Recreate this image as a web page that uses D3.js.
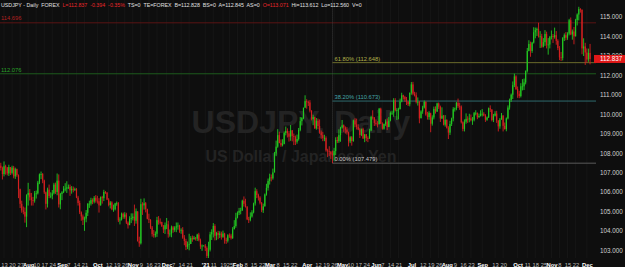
<!DOCTYPE html>
<html><head><meta charset="utf-8">
<script src="https://cdn.jsdelivr.net/npm/d3@7"></script>
<style>html,body{margin:0;padding:0;background:#0e0e0e;overflow:hidden}</style>
</head><body><svg id="c" width="625" height="267"></svg>
<script>
// ---------- DATA ----------
const startDate = "2020-07-09";     // first daily bar (weekdays follow)
const firstOpen = 107.35;
const closes = [
// Jul 2020
107.23,106.92,107.32,107.26,106.95,107.28,106.98,107.25,106.80,107.17,106.86,106.14,105.39,105.05,104.98,104.73,105.83,
// Aug
105.95,105.72,105.58,105.55,105.92,105.93,106.48,106.90,106.92,106.59,105.98,105.39,106.12,105.79,105.80,105.93,106.38,106.00,106.58,105.36,105.90,
// Sep
105.98,106.16,106.17,106.23,106.26,106.08,106.16,106.15,106.15,105.71,105.43,104.95,104.74,104.57,104.63,104.93,105.38,105.40,105.58,105.50,105.70,105.55,
// Oct
105.52,105.31,105.73,105.68,106.00,105.96,105.61,105.33,105.46,105.11,105.11,105.41,105.42,104.54,104.58,104.88,104.72,104.84,104.42,104.29,104.62,104.65,
// Nov
104.73,104.52,105.01,103.47,103.36,105.37,105.31,105.42,105.12,104.62,104.57,104.17,103.83,103.77,103.85,104.55,104.46,104.45,104.24,104.07,104.29,
// Dec
104.33,103.83,103.86,104.18,104.05,104.17,104.23,104.27,104.02,104.05,103.65,103.48,103.18,103.30,103.33,103.63,103.56,103.65,103.60,103.81,103.52,103.20,103.24,
// Jan 2021
103.24,103.12,102.71,103.03,103.82,103.94,104.25,103.75,103.89,103.79,103.86,103.69,103.86,103.54,103.49,103.77,103.76,103.62,104.08,104.25,104.68,
// Feb
104.93,105.03,105.05,105.55,105.39,105.22,104.59,104.57,104.74,104.95,105.41,106.04,105.84,105.71,105.45,105.06,105.26,105.87,106.21,106.57,
// Mar
106.75,106.70,107.00,107.98,108.33,108.92,108.52,108.40,108.47,109.03,109.14,109.01,108.84,109.17,108.88,108.83,108.58,108.72,109.19,109.64,109.80,110.34,110.67,
// Apr
110.62,110.60,110.18,109.74,109.85,109.27,109.66,109.39,109.06,108.92,108.77,108.78,108.14,108.09,108.07,107.94,107.88,108.10,108.67,108.61,108.92,109.31,
// May
109.43,109.31,109.20,109.07,108.60,108.81,108.62,109.68,109.47,109.34,109.21,108.93,109.23,108.75,108.96,108.77,108.75,109.16,109.86,109.83,109.55,
// Jun
109.50,109.49,110.28,109.51,109.25,109.49,109.62,109.34,109.67,110.06,110.07,110.71,110.20,110.20,110.26,110.65,110.97,110.88,110.76,110.63,110.51,111.10,
// Jul
111.53,111.05,110.97,110.63,110.63,109.78,110.14,110.34,110.63,109.98,109.85,110.07,109.51,109.83,110.27,110.14,110.55,110.38,109.78,109.92,109.46,109.71,
// Aug
109.30,109.05,109.49,109.78,110.25,110.29,110.58,110.41,110.39,109.58,109.24,109.61,109.76,109.75,109.78,109.69,109.71,110.05,110.07,109.84,109.91,110.02,
// Sep
110.02,109.93,109.71,109.83,110.30,110.24,109.70,109.92,110.03,109.67,109.37,109.72,109.93,109.40,109.23,109.78,110.34,110.73,111.00,111.49,111.94,111.29,
// Oct
111.05,110.93,111.43,111.43,111.63,112.22,113.25,113.61,113.25,113.68,114.21,114.32,114.37,114.00,114.00,113.47,113.70,114.12,113.56,113.58,113.96,
// Nov
114.01,113.97,114.06,113.77,113.40,112.92,112.89,113.91,114.06,113.93,114.14,114.83,114.10,114.25,114.00,114.84,115.12,115.40,115.37,113.38,113.48,113.17,
// Dec
112.81,113.15,112.837];
const highs = [
107.50,107.30,107.57,107.40,107.28,107.40,107.25,107.35,107.34,107.25,107.20,106.90,106.17,105.55,105.25,105.20,105.88,
106.47,106.15,105.95,105.75,106.05,106.07,106.57,106.95,107.05,106.97,106.63,106.02,106.22,106.38,105.98,106.10,106.47,106.48,106.95,106.90,105.95,
106.04,106.30,106.45,106.55,106.38,106.38,106.30,106.28,106.22,106.20,105.80,105.55,105.00,104.84,104.73,105.07,105.43,105.55,105.70,105.67,105.79,105.84,
105.80,105.68,105.77,105.80,106.11,106.05,106.00,105.68,105.53,105.52,105.35,105.44,105.51,105.48,104.70,104.94,104.94,104.96,104.93,104.49,104.75,104.90,
104.90,105.35,105.15,104.98,103.70,105.65,105.47,105.67,105.48,105.14,104.88,104.60,104.25,104.04,103.97,104.72,104.76,104.64,104.47,104.30,104.43,
104.66,104.52,104.07,104.27,104.25,104.24,104.43,104.43,104.31,104.13,104.19,103.78,103.59,103.45,103.85,103.73,103.76,103.74,103.68,103.85,103.90,103.60,103.30,
103.26,103.32,103.20,103.44,103.95,104.08,104.40,104.34,103.95,104.00,103.98,103.96,104.01,103.90,103.65,103.83,103.87,103.85,104.19,104.55,104.93,
105.00,105.18,105.19,105.60,105.77,105.65,105.28,104.72,104.95,105.06,105.45,106.22,106.14,105.91,105.78,105.48,105.40,105.92,106.42,106.69,
106.94,106.90,107.20,108.06,108.64,109.23,109.10,108.70,108.71,109.11,109.36,109.27,109.13,109.44,109.18,109.00,108.90,108.95,109.29,109.85,109.85,110.29,110.97,
110.77,110.70,110.72,110.20,109.97,109.87,109.80,109.77,109.73,109.16,109.09,108.94,108.86,108.22,108.35,108.10,108.13,108.27,108.81,108.84,109.22,109.35,
109.70,109.47,109.37,109.33,109.10,108.87,108.87,109.72,109.79,109.77,109.48,109.28,109.26,109.30,108.99,108.98,108.86,109.25,109.92,110.20,109.85,
109.73,109.64,110.32,110.33,109.58,109.52,109.73,109.78,109.85,110.14,110.18,110.82,110.82,110.31,110.33,110.80,111.10,111.00,110.94,110.88,110.67,111.11,
111.65,111.66,111.15,111.12,110.86,110.68,110.20,110.43,110.70,110.66,110.12,110.15,110.00,109.94,110.39,110.40,110.59,110.60,110.44,110.35,109.96,109.95,
109.73,109.38,109.66,109.82,110.36,110.34,110.63,110.80,110.59,110.45,109.63,109.73,110.04,109.89,110.02,109.98,109.85,110.11,110.20,110.08,110.03,110.20,
110.26,110.10,110.00,109.88,110.34,110.45,110.25,110.01,110.15,110.17,109.69,109.80,110.06,109.94,109.57,109.83,110.45,110.80,111.06,111.68,112.08,112.00,
111.42,111.20,111.59,111.80,111.83,112.25,113.40,113.80,113.73,113.72,114.47,114.45,114.45,114.70,114.27,114.13,113.91,114.32,114.24,113.91,114.02,
114.30,114.12,114.45,114.27,113.85,113.50,113.20,113.96,114.15,114.22,114.21,114.90,114.97,114.35,114.48,114.90,115.18,115.52,115.45,115.38,113.90,113.67,
113.38,113.37,113.612];
const lows = [
107.10,106.64,106.80,106.89,106.85,106.82,106.87,106.90,106.70,106.67,106.78,105.68,105.17,104.93,104.85,104.42,104.19,
105.30,105.56,105.30,105.30,105.45,105.66,105.87,106.40,106.66,106.45,105.90,105.10,105.20,105.68,105.68,105.62,105.87,105.90,105.83,105.20,105.11,
105.58,105.94,106.03,105.95,106.15,105.80,105.91,105.98,106.05,105.68,105.30,104.86,104.52,104.30,104.00,104.44,104.76,105.18,105.30,105.37,105.41,105.45,
105.40,104.94,105.30,105.40,105.53,105.90,105.58,105.26,105.15,105.06,104.98,105.05,105.29,104.45,104.33,104.53,104.62,104.62,104.35,104.12,104.33,104.40,
104.54,104.25,104.37,103.45,103.18,103.30,104.82,105.09,104.95,104.59,104.40,104.10,103.70,103.65,103.66,103.69,104.32,104.33,104.20,103.89,103.84,
104.09,103.65,103.70,103.67,103.90,103.95,103.93,104.06,103.90,103.85,103.59,103.26,103.01,103.06,103.00,103.32,103.44,103.56,103.50,103.48,103.46,103.07,102.97,
103.22,102.96,102.60,102.59,102.94,103.53,103.66,103.51,103.52,103.57,103.63,103.55,103.64,103.34,103.33,103.40,103.64,103.55,103.59,104.08,104.16,
104.64,104.81,104.85,105.03,105.25,105.20,104.55,104.40,104.49,104.68,104.90,105.30,105.68,105.56,105.36,104.96,104.92,105.25,105.81,106.07,
106.38,106.54,106.63,107.01,107.84,108.27,108.50,108.32,108.34,108.45,108.91,108.80,108.59,108.63,108.60,108.41,108.41,108.48,108.64,109.12,109.42,109.74,110.31,
110.28,110.42,110.09,109.68,109.43,109.24,109.20,109.23,108.99,108.73,108.61,108.61,108.07,107.79,107.85,107.70,107.48,107.60,107.90,108.51,108.52,108.58,
109.25,109.09,109.00,108.95,108.34,108.51,108.38,108.58,109.33,109.21,109.18,108.77,108.87,108.73,108.56,108.61,108.56,108.73,109.12,109.72,109.39,
109.41,109.32,109.47,109.50,109.20,109.20,109.40,109.18,109.33,109.63,109.96,109.87,110.14,109.70,109.73,110.24,110.61,110.75,110.64,110.47,110.42,110.40,
111.00,110.97,110.91,110.55,110.44,109.53,109.80,110.02,110.29,109.92,109.72,109.71,109.07,109.41,109.73,110.03,110.11,110.27,109.60,109.75,109.42,109.36,
109.26,108.72,108.93,109.39,109.63,110.13,110.20,110.32,110.22,109.52,109.12,109.11,109.51,109.55,109.58,109.63,109.45,109.63,109.94,109.74,109.82,109.88,
109.88,109.89,109.60,109.66,109.80,110.11,109.63,109.59,109.88,109.55,109.11,109.25,109.72,109.11,109.21,109.12,109.73,110.23,110.63,110.78,111.39,111.24,
110.84,110.82,110.86,111.22,111.24,111.53,112.14,113.23,112.95,113.15,113.63,113.90,114.02,113.94,113.40,113.41,113.43,113.51,113.38,113.06,113.38,
113.84,113.66,113.88,113.57,113.29,112.78,112.73,112.76,113.76,113.80,113.82,114.05,114.06,113.83,113.59,114.00,114.56,114.82,115.22,113.08,112.99,112.53,
112.65,112.69,112.560];

const yTickValues = [103,104,105,106,107,108,109,110,111,112,113,114,115];
const xTickDates = ["2020-07-13","2020-07-20","2020-07-27","2020-08-03","2020-08-10","2020-08-17","2020-08-24","2020-09-01","2020-09-07","2020-09-14","2020-09-21","2020-10-01","2020-10-12","2020-10-19","2020-10-26","2020-11-02","2020-11-09","2020-11-16","2020-11-23","2020-12-01","2020-12-07","2020-12-14","2020-12-21","2021-01-04","2021-01-11","2021-01-19","2021-01-25","2021-02-01","2021-02-08","2021-02-15","2021-02-22","2021-03-01","2021-03-08","2021-03-15","2021-03-22","2021-04-01","2021-04-12","2021-04-19","2021-04-26","2021-05-03","2021-05-10","2021-05-17","2021-05-24","2021-06-01","2021-06-07","2021-06-14","2021-06-21","2021-07-01","2021-07-12","2021-07-19","2021-07-26","2021-08-02","2021-08-09","2021-08-16","2021-08-23","2021-09-01","2021-09-13","2021-09-20","2021-10-01","2021-10-11","2021-10-18","2021-10-25","2021-11-01","2021-11-08","2021-11-15","2021-11-22","2021-12-01"];
const xTickLabels = ["13","20","27","Aug","10","17","24","Sep","7","14","21","Oct","12","19","26","Nov","9","16","23","Dec","7","14","21","'21","11","19","25","Feb","8","15","22","Mar","8","15","22","Apr","12","19","26","May","10","17","24","Jun","7","14","21","Jul","12","19","26","Aug","9","16","23","Sep","13","20","Oct","11","18","25","Nov","8","15","22","Dec"];
const monthLabels = ["Aug","Sep","Oct","Nov","Dec","'21","Feb","Mar","Apr","May","Jun","Jul"];

const lastPrice = 112.837;
const redLevel = 114.696;
const greenLevel = 112.076;
const fibStartDate = "2021-04-23";
const fibNames = ["61.80%","38.20%","0.00%"];
const fibValues = [112.648,110.673,107.479];
const fibTop = 115.84;
const headerParts = [
  ["USDJPY - Daily  FOREX  ","#e0e0e0"],
  ["L=112.837  -0.394  -0.35%","#e8262a"],
  ["  TS=0  TE=FOREX  B=112.828  BS=0  A=112.845  AS=0  ","#e0e0e0"],
  ["O=113.071","#e8262a"],
  ["  Hi=113.612  Lo=112.560  V=0","#e0e0e0"]];

// ---------- BUILD ----------
const fmtDate = d3.utcFormat("%Y-%m-%d");
const dates = [];
{ let d = new Date(startDate + "T00:00:00Z");
  while (dates.length < closes.length) {
    const wd = d.getUTCDay();
    if (wd !== 0 && wd !== 6) dates.push(fmtDate(d));
    d = new Date(d.getTime() + 86400000);
  } }
const bars = dates.map((dt, i) => ({
  date: dt, open: i ? closes[i-1] : firstOpen, high: highs[i], low: lows[i], close: closes[i]
}));

const W = 625, H = 267, plotR = 596, plotB = 258;
const FF = "Liberation Sans, Arial, sans-serif";
const svg = d3.select("#c");
svg.append("rect").attr("width", W).attr("height", H).attr("fill", "#0e0e0e");

const x = d3.scalePoint().domain(dates).range([0.8, 0.8 + (dates.length - 1) * 1.61]);
const y = d3.scaleLinear().domain([103, 115]).range([250.3, 16.9]);

svg.append("defs").append("clipPath").attr("id", "clip")
  .append("rect").attr("x", 0).attr("y", 0).attr("width", plotR).attr("height", plotB);

// grid
svg.append("g").selectAll("line").data(xTickDates).join("line")
  .attr("x1", d => x(d)).attr("x2", d => x(d))
  .attr("y1", 0).attr("y2", plotB).attr("stroke", "#161616").attr("stroke-width", 1);

// watermark
svg.append("text").attr("x", 301).attr("y", 133).attr("text-anchor", "middle")
  .attr("font-family", FF).attr("font-weight", "bold")
  .attr("font-size", 32).attr("fill", "#232323").text("USDJPY, Daily");
svg.append("text").attr("x", 301).attr("y", 162).attr("text-anchor", "middle")
  .attr("font-family", FF).attr("font-weight", "bold")
  .attr("font-size", 16).attr("fill", "#232323").text("US Dollar / Japanese Yen");

const g = svg.append("g").attr("clip-path", "url(#clip)");

// horizontal levels
g.append("line").attr("x1", 0).attr("x2", plotR).attr("y1", y(redLevel)).attr("y2", y(redLevel))
  .attr("stroke", "#5a1414").attr("stroke-width", 1);
g.append("line").attr("x1", 0).attr("x2", plotR).attr("y1", y(greenLevel)).attr("y2", y(greenLevel))
  .attr("stroke", "#1d5a1d").attr("stroke-width", 1);

// fib
const fx = x(fibStartDate);
const fibLine = ["#6b6b2a", "#2f6a6e", "#5a5a5a"];
const fibText = ["#b0b04a", "#45a5aa", "#c8c8c8"];
g.append("line").attr("x1", fx).attr("x2", fx).attr("y1", y(fibTop)).attr("y2", y(fibValues[2]))
  .attr("stroke", "#4a4a4a").attr("stroke-width", 0.8).attr("stroke-dasharray", "1,1");
fibValues.forEach((v, k) => {
  g.append("line").attr("x1", fx).attr("x2", plotR).attr("y1", y(v)).attr("y2", y(v))
    .attr("stroke", fibLine[k]).attr("stroke-width", 1);
  g.append("text").attr("x", fx + 2).attr("y", y(v) - 2)
    .attr("font-family", FF).attr("font-size", 5.8)
    .attr("fill", fibText[k]).text(fibNames[k] + " (" + v.toFixed(3) + ")");
});

// candles
const up = "#22c822", dn = "#d42020";
const cg = g.append("g");
cg.selectAll("line").data(bars).join("line")
  .attr("x1", d => x(d.date)).attr("x2", d => x(d.date))
  .attr("y1", d => y(d.high)).attr("y2", d => y(d.low))
  .attr("stroke", d => d.close >= d.open ? up : dn).attr("stroke-width", 0.9);
cg.selectAll("rect").data(bars).join("rect")
  .attr("x", d => x(d.date) - 0.6).attr("width", 1.2)
  .attr("y", d => y(Math.max(d.open, d.close)))
  .attr("height", d => Math.max(0.8, Math.abs(y(d.open) - y(d.close))))
  .attr("fill", d => d.close >= d.open ? up : dn);

// left level labels
svg.append("text").attr("x", 1).attr("y", y(redLevel) - 2.5)
  .attr("font-family", FF).attr("font-size", 5.8)
  .attr("fill", "#b02020").text(redLevel.toFixed(3));
svg.append("text").attr("x", 1).attr("y", y(greenLevel) - 2)
  .attr("font-family", FF).attr("font-size", 5.8)
  .attr("fill", "#2aa02a").text(greenLevel.toFixed(3));

// right axis
const ya = svg.append("g").attr("transform", `translate(${plotR},0)`)
  .call(d3.axisRight(y).tickValues(yTickValues).tickSize(0).tickPadding(4).tickFormat(d3.format(".3f")));
ya.select(".domain").remove();
ya.selectAll("text").attr("fill", "#d0d0d0").attr("font-size", 6.3).attr("font-family", FF);

// last price tag
svg.append("rect").attr("x", 594).attr("y", y(lastPrice) - 4).attr("width", 31).attr("height", 8)
  .attr("fill", "#e01818");
svg.append("text").attr("x", 600).attr("y", y(lastPrice)).attr("dy", "0.35em")
  .attr("font-family", FF).attr("font-size", 6.3)
  .attr("fill", "#ffffff").text(lastPrice.toFixed(3));

// bottom axis
const xa = svg.append("g").attr("transform", `translate(0,${plotB})`)
  .call(d3.axisBottom(x).tickValues(xTickDates).tickSize(0).tickPadding(5)
    .tickFormat((d) => xTickLabels[xTickDates.indexOf(d)]));
xa.select(".domain").remove();
const isMonth = d => monthLabels.includes(xTickLabels[xTickDates.indexOf(d)]);
xa.selectAll("text").attr("font-family", FF).attr("font-size", 5.8)
  .attr("fill", d => isMonth(d) ? "#ffffff" : "#bdbdbd")
  .attr("font-weight", d => isMonth(d) ? "bold" : "normal");

// header
const ht = svg.append("text").attr("x", 1).attr("y", 6.5)
  .attr("font-family", FF).attr("font-size", 5.3)
  .style("white-space", "pre");
headerParts.forEach(p => ht.append("tspan").attr("fill", p[1]).text(p[0]));
</script></body></html>
